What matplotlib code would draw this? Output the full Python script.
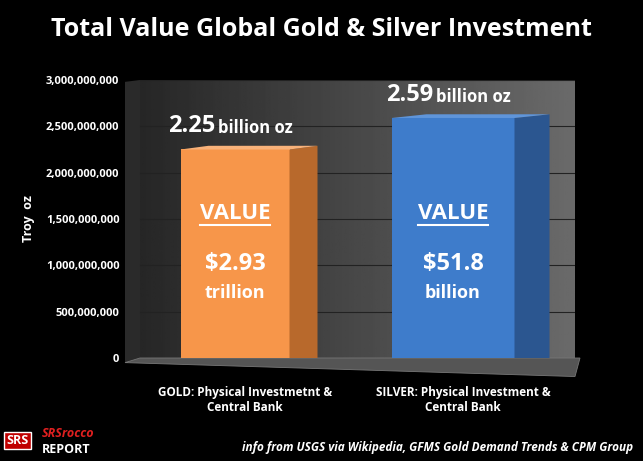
import numpy as np
import matplotlib.pyplot as plt
from matplotlib.patches import Polygon

plt.rcParams['font.family'] = ['Open Sans', 'DejaVu Sans']

categories = ['GOLD: Physical Investmetnt &\nCentral Bank', 'SILVER: Physical Investment &\nCentral Bank']
ounces = [2.25e9, 2.59e9]
oz_labels = ['2.25', '2.59']
value_main = ['$2.93', '$51.8']
value_unit = ['trillion', 'billion']
yticks = [0, 5e8, 1e9, 1.5e9, 2e9, 2.5e9, 3e9]

front_colors = ['#F7964A', '#3E7CCB']
side_colors = ['#B8692C', '#2B5690']
top_colors = ['#F9B27A', '#5F95DA']

fig = plt.figure(figsize=(6.43, 4.61), dpi=100, facecolor='black')
ax = fig.add_axes([125 / 643, 103 / 461, 450 / 643, 278 / 461])
ax.set_facecolor('black')
ax.set_xlim(0, 450)
ax.set_ylim(0, 3e9)

# back wall gradient
grad = np.linspace(0.15, 0.42, 256).reshape(1, -1)
ax.imshow(grad, extent=[15, 455, 0, 3e9], aspect='auto', cmap='gray', vmin=0, vmax=1, zorder=0)
for t in yticks[1:]:
    ax.plot([15, 455], [t, t], color='#222222', lw=0.8, zorder=1)
# left wall edge and floor
ax.add_patch(Polygon([[0, -0.05e9], [15, 0], [15, 3e9], [0, 2.98e9]], closed=True,
                     facecolor='#2a2a2a', edgecolor='none', clip_on=False, zorder=0))
ax.add_patch(Polygon([[15, 0], [455, 0], [450, -0.2e9], [0, -0.05e9]], closed=True,
                     facecolor='#555555', edgecolor='#777777', lw=0.6, clip_on=False, zorder=1))

xs = [110, 328]
widths = [109, 123]
depths = [28, 35]
dy = 0.04e9
base = -0.06e9
for i in range(2):
    x0 = xs[i] - widths[i] / 2
    x1 = xs[i] + widths[i] / 2
    h = ounces[i]
    ax.bar(xs[i], h - base, width=widths[i], bottom=base, color=front_colors[i], zorder=3)
    ax.add_patch(Polygon([[x1, base], [x1 + depths[i], base + dy], [x1 + depths[i], h + dy], [x1, h]],
                         closed=True, facecolor=side_colors[i], edgecolor='none', zorder=3))
    ax.add_patch(Polygon([[x0, h], [x1, h], [x1 + depths[i], h + dy], [x0 + depths[i], h + dy]],
                         closed=True, facecolor=top_colors[i], edgecolor='none', zorder=3))
    ax.text(xs[i] - 20, h + 0.12e9, oz_labels[i], color='white', fontsize=17, fontweight='bold',
            ha='right', va='bottom', zorder=4)
    ax.text(xs[i] - 17, h + 0.13e9, 'billion oz', color='white', fontsize=12, fontweight='bold',
            ha='left', va='bottom', zorder=4)
    ax.text(xs[i], 1.45e9, 'VALUE', color='white', fontsize=16, fontweight='bold', ha='center',
            va='bottom', zorder=4)
    ax.plot([xs[i] - 35, xs[i] + 35], [1.43e9, 1.43e9], color='white', lw=1.5, zorder=4)
    ax.text(xs[i], 0.88e9, value_main[i], color='white', fontsize=17, fontweight='bold', ha='center',
            va='bottom', zorder=4)
    ax.text(xs[i], 0.6e9, value_unit[i], color='white', fontsize=13, fontweight='bold', ha='center',
            va='bottom', zorder=4)
    ax.text(xs[i] + 10, -0.3e9, categories[i], color='white', fontsize=8.5, fontweight='bold',
            ha='center', va='top', zorder=4)

ax.set_yticks(yticks)
ax.set_yticklabels([f'{int(t):,}' for t in yticks], color='white', fontsize=8, fontweight='bold')
ax.tick_params(axis='y', length=0, pad=4)
ax.set_xticks([])
for s in ax.spines.values():
    s.set_visible(False)
ax.set_ylabel('Troy  oz', color='white', fontsize=9, fontweight='bold', labelpad=8)

fig.text(0.5, 0.935, 'Total Value Global Gold & Silver Investment', color='white', fontsize=18,
         fontweight='bold', ha='center', va='center')
fig.text(0.985, 0.03, 'info from USGS via Wikipedia, GFMS Gold Demand Trends & CPM Group', color='white',
         fontsize=8.5, fontweight='bold', style='italic', ha='right', va='center')
fig.text(0.01, 0.045, 'SRS', color='white', fontsize=9, fontweight='bold', ha='left', va='center',
         bbox=dict(facecolor='#c00000', edgecolor='white', pad=1.5))
fig.text(0.065, 0.06, 'SRSrocco', color='#e02020', fontsize=9, fontweight='bold', style='italic', va='center')
fig.text(0.065, 0.025, 'REPORT', color='white', fontsize=9, fontweight='bold', va='center')

fig.savefig('out.png', dpi=100, facecolor='black')
